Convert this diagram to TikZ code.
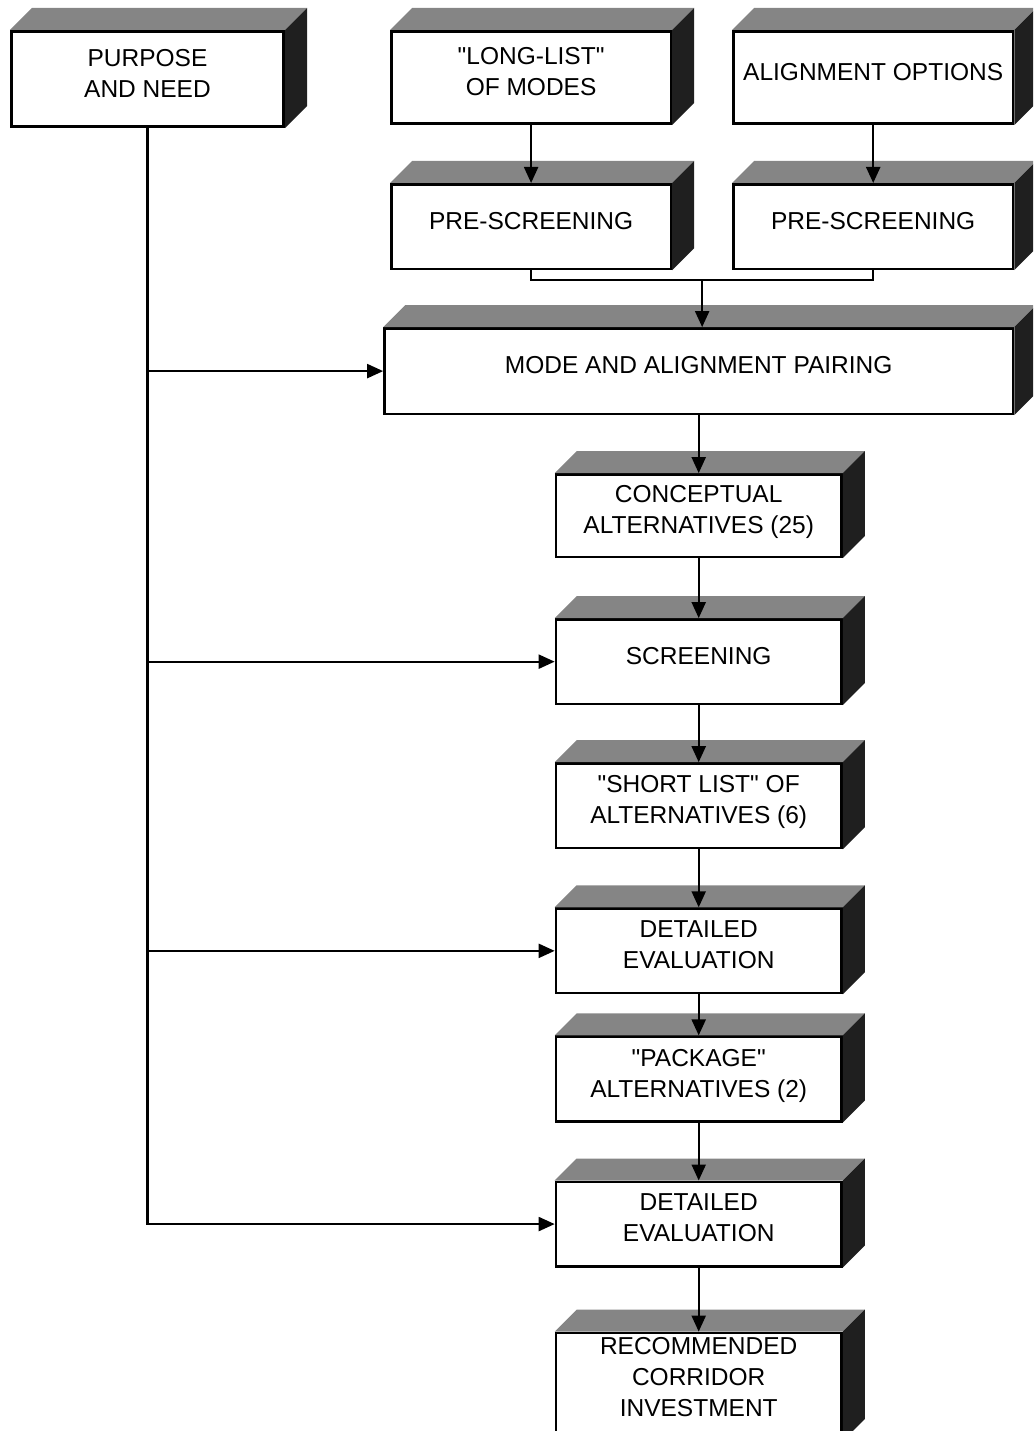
\documentclass[tikz,border=0pt]{standalone}
\usepackage{fontspec}
\setmainfont{Liberation Sans}
\usetikzlibrary{arrows.meta,positioning,calc}
\tikzset{
	stage/.style={
		rectangle, draw=black, line width=2.6pt, fill=white,
		minimum width=285.5pt, minimum height=84.5pt, inner sep=2pt,
		align=center, font=\fontsize{24.5}{31}\selectfont, text depth=12pt
	},
	%
	topface/.style={
		fill=black!48
	},
	%
	sideface/.style={
		fill=black!88
	},
	%
	flow/.style={
		line width=2.2pt, -{Triangle[length=16pt,width=14pt]}
	}
}
\newcommand{\boxfaces}[1]{
	\fill[topface] (#1.north west) -- ++(22,22) -- ($(#1.north east)+(22,22)$) -- (#1.north east) -- cycle;
	\fill[sideface] (#1.north east) -- ++(22,22) -- ($(#1.south east)+(22,22)$) -- (#1.south east) -- cycle;
}
\begin{document}
\begin{tikzpicture}[x=1pt,y=1pt]
    \useasboundingbox (0,0) rectangle (1033,-1431);
    \clip (0,0) rectangle (1033,-1431);
    \node(purpose)[stage, minimum width=272.5pt, minimum height=95.4pt] at (147.5,-79){PURPOSE\\AND NEED};
    \node(longlist)[stage, minimum width=279.5pt, minimum height=92.4pt, right=105pt of purpose.north east, anchor=north west]{\textquotedbl LONG-LIST\textquotedbl\\OF MODES};
    \node(options)[stage, minimum width=279.5pt, minimum height=92.4pt, right=60pt of longlist]{ALIGNMENT OPTIONS};
    \node(pre1)[stage, minimum width=279.5pt, below=58pt of longlist]{PRE-SCREENING};
    \node(pre2)[stage, minimum width=279.5pt, below=58pt of options]{PRE-SCREENING};
    \node(pairing)[stage, minimum width=628.5pt, minimum height=85.4pt, below=57pt of pre2.south east, anchor=north east]{MODE AND ALIGNMENT PAIRING};
    \node(concept)[stage, minimum height=82.4pt, below=58pt of pairing]{CONCEPTUAL\\ALTERNATIVES (25)};
    \node(screen)[stage, below=60pt of concept]{SCREENING};
    \node(short)[stage, below=57pt of screen]{\textquotedbl SHORT LIST\textquotedbl{} OF\\ALTERNATIVES (6)};
    \node(detail1)[stage, below=58pt of short]{DETAILED\\EVALUATION};
    \node(package)[stage, below=41pt of detail1]{\textquotedbl PACKAGE\textquotedbl\\ALTERNATIVES (2)};
    \node(detail2)[stage, below=58pt of package]{DETAILED\\EVALUATION};
    \node(recommend)[stage, minimum height=107pt, text depth=18pt, below=64pt of detail2]{RECOMMENDED\\CORRIDOR\\INVESTMENT};
    % shaded top and side of each block
    \foreach \n in {purpose,longlist,options,pre1,pre2,pairing,concept,screen,short,detail1,package,detail2,recommend}
        {\boxfaces{\n}}
    % flow down the right column
    \draw[flow] (longlist) -- (pre1);
    \draw[flow] (options) -- (pre2);
    \draw[line width=2.2pt] (pre1.south) -- ++(0,-10) -| (pre2.south);
    \coordinate(join) at ($(pre1.south)!0.5!(pre2.south)+(0,-10)$);
    \draw[flow] (join) -- (join |- pairing.north);
    \draw[flow] (pairing) -- (concept);
    \draw[flow] (concept) -- (screen);
    \draw[flow] (screen) -- (short);
    \draw[flow] (short) -- (detail1);
    \draw[flow] (detail1) -- (package);
    \draw[flow] (package) -- (detail2);
    \draw[flow] (detail2) -- (recommend);
    % purpose and need feeds the steps
    \draw[flow] (purpose.south) |- (detail2.west);
    \draw[flow] (purpose.south |- pairing.west) -- (pairing.west);
    \draw[flow] (purpose.south |- screen.west) -- (screen.west);
    \draw[flow] (purpose.south |- detail1.west) -- (detail1.west);
\end{tikzpicture}
\end{document}
